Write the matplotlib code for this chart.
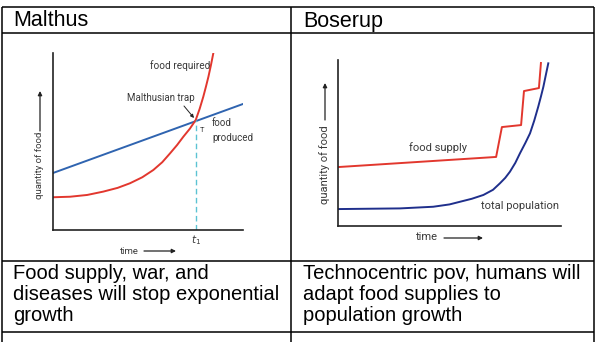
import matplotlib.pyplot as plt

# Malthus: food produced (straight line) vs food required (exponential)
malthus_produced_x = [0.0, 10.0]
malthus_produced_y = [3.22, 7.12]
malthus_required_x = [0.0, 0.9, 1.8, 2.65, 3.4, 4.05, 4.7, 5.28, 5.75, 6.16, 6.53,
                      6.86, 7.2, 7.51, 7.72, 7.91, 8.05, 8.18, 8.31, 8.44]
malthus_required_y = [1.85, 1.88, 1.98, 2.17, 2.38, 2.64, 2.98, 3.39, 3.83, 4.33, 4.8,
                      5.27, 5.72, 6.21, 6.85, 7.53, 8.1, 8.66, 9.3, 10.0]
trap_t1 = 7.51
trap_level = 6.21

# Boserup: food supply jumps up as population grows
boserup_supply_x = [0.0, 7.09, 7.35, 8.21, 8.34, 9.01, 9.10]
boserup_supply_y = [3.55, 4.16, 5.96, 6.08, 8.13, 8.31, 9.82]
boserup_pop_x = [0.0, 2.78, 4.27, 5.0, 5.47, 6.0, 6.52, 6.95, 7.26, 7.5, 7.71, 7.95,
                 8.16, 8.4, 8.61, 8.8, 8.98, 9.1, 9.21, 9.32, 9.43]
boserup_pop_y = [1.02, 1.06, 1.16, 1.3, 1.46, 1.64, 1.87, 2.18, 2.57, 2.9, 3.27, 3.8,
                 4.38, 5.0, 5.58, 6.35, 7.19, 7.8, 8.39, 9.1, 9.80]

headers = ["Malthus", "Boserup"]
notes = ["Food supply, war, and\ndiseases will stop exponential\ngrowth",
         "Technocentric pov, humans will\nadapt food supplies to\npopulation growth"]

W, H = 601, 342
fig = plt.figure(figsize=(W / 100, H / 100), dpi=100)

# table grid and text, drawn in pixel units
grid = fig.add_axes([0, 0, 1, 1])
grid.set_xlim(0, W)
grid.set_ylim(H, 0)
grid.axis("off")
for y in [7, 33, 261, 332]:
    grid.plot([2, 594], [y, y], color="black", lw=1.1, solid_capstyle="butt")
for x in [2, 291, 594]:
    grid.plot([x, x], [7, H], color="black", lw=1.1, solid_capstyle="butt")

table_font = "Liberation Sans"
for x, h in zip([13, 303], headers):
    grid.text(x, 21, h, fontsize=15.5, family=table_font, va="center", ha="left")
for x, n in zip([13, 303], notes):
    grid.text(x, 264, n, fontsize=14.5, family=table_font, va="top", ha="left",
              linespacing=1.13)

chart_font = "Roboto"
label_col = "#3a3a3a"


def px_axes(left, right, top, bottom):
    return fig.add_axes([left / W, (H - bottom) / H, (right - left) / W, (bottom - top) / H])


def style_axes(ax):
    ax.set_xlim(0, 10)
    ax.set_ylim(0, 10)
    ax.set_xticks([])
    ax.set_yticks([])
    for s in ["top", "right"]:
        ax.spines[s].set_visible(False)
    for s in ["left", "bottom"]:
        ax.spines[s].set_linewidth(1.2)
        ax.spines[s].set_color("#222222")
    ax.patch.set_alpha(0)


def arrow(x0, y0, x1, y1, lw=0.9, size=6):
    grid.annotate("", xy=(x1, y1), xytext=(x0, y0),
                  arrowprops=dict(arrowstyle="-|>", color="#222222", lw=lw,
                                  mutation_scale=size, shrinkA=0, shrinkB=0))


def label(x, y, s, size, **kw):
    grid.text(x, y, s, fontsize=size, family=chart_font, color=label_col,
              va="center", **kw)


# Malthus chart
ax1 = px_axes(53, 243, 53, 230)
style_axes(ax1)
ax1.plot(malthus_produced_x, malthus_produced_y, color="#2f64b0", lw=1.4)
ax1.plot(malthus_required_x, malthus_required_y, color="#e2372e", lw=1.4)
ax1.plot([trap_t1, trap_t1], [0, trap_level], color="#5cc3d3", lw=1.0, ls=(0, (4, 2.5)))

label(180, 66, "food required", 7.2, ha="center")
label(161, 98, "Malthusian trap", 7.0, ha="center")
arrow(184, 106, 194, 118, lw=0.7, size=5)
label(202, 130, "T", 5.5, ha="center")
label(212, 123, "food", 7.0, ha="left")
label(212, 138, "produced", 7.0, ha="left")
grid.text(196, 240, "$t_1$", fontsize=7.5, color=label_col, ha="center", va="center")
label(120, 251, "time", 6.8, ha="left")
arrow(144, 251, 176, 251)
label(40, 165, "quantity of food", 6.8, ha="center", rotation=90)
arrow(40, 131, 40, 91)

# Boserup chart
ax2 = px_axes(338, 561, 60, 226)
style_axes(ax2)
ax2.plot(boserup_supply_x, boserup_supply_y, color="#e2372e", lw=1.4)
ax2.plot(boserup_pop_x, boserup_pop_y, color="#1f2f8c", lw=1.4)

label(438, 148, "food supply", 8, ha="center")
label(520, 206, "total population", 8, ha="center")
label(416, 237, "time", 8, ha="left")
arrow(444, 238, 483, 238)
label(325, 165, "quantity of food", 8, ha="center", rotation=90)
arrow(325, 120, 325, 83)

fig.savefig("out.png", dpi=100)
